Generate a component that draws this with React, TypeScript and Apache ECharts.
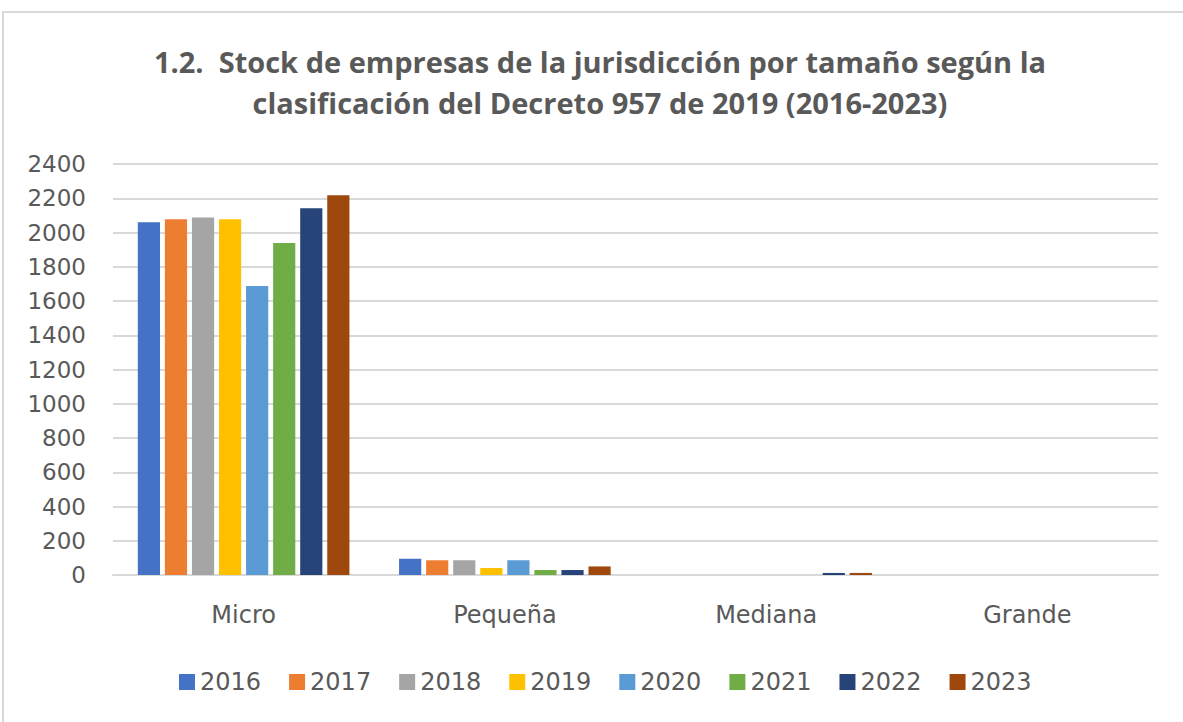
import React, { useEffect, useRef } from "react";
import * as echarts from "echarts";

const categories = ["Micro", "Pequeña", "Mediana", "Grande"];
const years = ["2016", "2017", "2018", "2019", "2020", "2021", "2022", "2023"];
const v2016 = [2060, 95, 0, 0];
const v2017 = [2077, 86, 0, 0];
const v2018 = [2087, 86, 0, 0];
const v2019 = [2077, 41, 0, 0];
const v2020 = [1688, 86, 0, 0];
const v2021 = [1939, 29, 0, 0];
const v2022 = [2142, 29, 12, 0];
const v2023 = [2218, 50, 12, 0];
const seriesValues = [v2016, v2017, v2018, v2019, v2020, v2021, v2022, v2023];
const colors = ["#4472C4", "#ED7D31", "#A5A5A5", "#FFC000", "#5B9BD5", "#70AD47", "#264478", "#9E480E"];
const yTicks = { min: 0, max: 2400, interval: 200 };
const titleText =
  "1.2.  Stock de empresas de la jurisdicción por tamaño según la\nclasificación del Decreto 957 de 2019 (2016-2023)";

export default function App() {
  const ref = useRef<HTMLDivElement>(null);
  useEffect(() => {
    if (!ref.current) return;
    const chart = echarts.init(ref.current, null, { renderer: "svg" });
    chart.setOption({
      animation: false,
      backgroundColor: "#ffffff",
      color: colors,
      graphic: [
        {
          type: "rect",
          shape: { x: 3, y: 12, width: 1200, height: 720 },
          style: { fill: "none", stroke: "#d9d9d9", lineWidth: 2 },
          silent: true,
        },
        {
          type: "text",
          x: 600,
          y: 41,
          style: {
            text: titleText,
            fontFamily: "Open Sans",
            fontWeight: "bold",
            fontSize: 29,
            lineHeight: 41,
            fill: "#595959",
            align: "center",
            verticalAlign: "top",
          },
          silent: true,
        },
      ],
      grid: { left: 113, right: 25, top: 164, bottom: 147, containLabel: false },
      legend: {
        bottom: 23,
        left: 174,
        itemWidth: 16,
        itemHeight: 16,
        itemGap: 28,
        icon: "rect",
        textStyle: { fontFamily: "DejaVu Sans", fontSize: 24, color: "#595959" },
        data: years,
      },
      xAxis: {
        type: "category",
        data: categories,
        axisLine: { lineStyle: { color: "#d9d9d9", width: 2 } },
        axisTick: { show: false },
        axisLabel: { fontFamily: "DejaVu Sans", fontSize: 24, color: "#595959", margin: 28 },
      },
      yAxis: {
        type: "value",
        min: yTicks.min,
        max: yTicks.max,
        interval: yTicks.interval,
        axisLine: { show: false },
        axisTick: { show: false },
        splitLine: { lineStyle: { color: "#d9d9d9", width: 2 } },
        axisLabel: {
          fontFamily: "DejaVu Sans",
          fontSize: 23,
          color: "#595959",
          margin: 27,
          formatter: (v: number) => String(v),
        },
      },
      series: years.map((y, i) => ({
        name: y,
        type: "bar",
        data: seriesValues[i],
        barGap: "22%",
        barCategoryGap: "19%",
        itemStyle: { color: colors[i] },
      })),
    });
    return () => chart.dispose();
  }, []);
  return (
    <div
      ref={ref}
      style={{ position: "fixed", left: 0, top: 0, width: 1183, height: 722 }}
    />
  );
}
